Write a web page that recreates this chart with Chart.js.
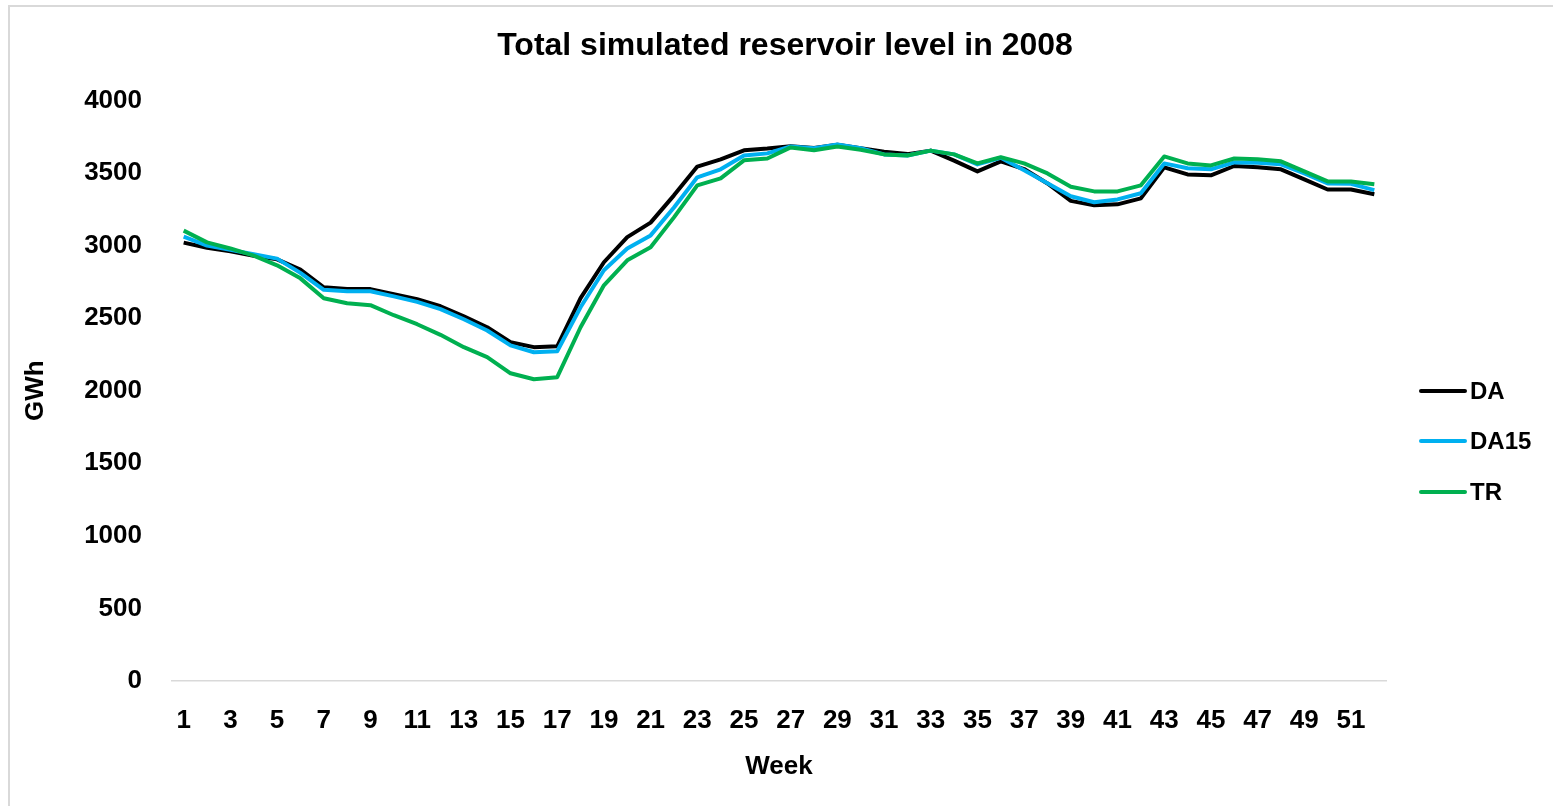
<!DOCTYPE html>
<html>
<head>
<meta charset="utf-8">
<script src="https://cdn.jsdelivr.net/npm/chart.js@4/dist/chart.umd.min.js"></script>
<style>
  html, body { margin: 0; padding: 0; background: #ffffff; }
  #wrap { position: relative; width: 1553px; height: 806px; overflow: hidden; background: #ffffff; }
  #frameTop { position: absolute; left: 8px; top: 5px; width: 1545px; height: 2px; background: #d9d9d9; }
  #frameLeft { position: absolute; left: 8px; top: 5px; width: 2px; height: 801px; background: #d9d9d9; }
  canvas { position: absolute; left: 0; top: 0; }
</style>
</head>
<body>
<div id="wrap">
  <div id="frameTop"></div>
  <div id="frameLeft"></div>
  <canvas id="c" width="1553" height="806"></canvas>
</div>
<script>
const titleText = 'Total simulated reservoir level in 2008';
const xTitle = 'Week';
const yTitle = 'GWh';
const weeks = [1,2,3,4,5,6,7,8,9,10,11,12,13,14,15,16,17,18,19,20,21,22,23,24,25,26,
               27,28,29,30,31,32,33,34,35,36,37,38,39,40,41,42,43,44,45,46,47,48,49,50,51,52];
const seriesNames = ['DA', 'DA15', 'TR'];
const DA = [3020,2985,2960,2930,2905,2835,2712,2700,2700,2665,2630,2582,2512,2437,2334,2300,2306,2638,2885,3058,3158,3346,3544,3594,3656,3668,
            3685,3672,3694,3670,3646,3630,3654,3585,3511,3580,3527,3428,3308,3277,3284,3325,3539,3490,3484,3548,3540,3525,3456,3386,3386,3353];
const DA15 = [3062,3000,2970,2940,2910,2812,2695,2685,2685,2650,2612,2562,2492,2415,2312,2265,2272,2575,2830,2980,3070,3262,3470,3525,3620,3635,
              3683,3670,3697,3670,3628,3620,3654,3628,3559,3605,3518,3430,3340,3298,3318,3360,3566,3532,3525,3573,3570,3560,3497,3428,3425,3382];
const TR = [3103,3022,2980,2930,2864,2774,2637,2602,2589,2520,2458,2385,2300,2231,2120,2079,2093,2437,2726,2898,2988,3194,3415,3463,3587,3600,
            3676,3656,3683,3660,3628,3620,3654,3628,3566,3608,3566,3497,3405,3373,3373,3415,3614,3566,3552,3600,3594,3580,3511,3442,3442,3422];
const yTicks = [0,500,1000,1500,2000,2500,3000,3500,4000];
const colors = ['#000000', '#00B0F0', '#00B050'];

const FONT = "'Liberation Sans', Arial, sans-serif";

const legendPlugin = {
  id: 'customLegend',
  afterDraw(chart) {
    const ctx = chart.ctx;
    const x0 = 1421, x1 = 1465, tx = 1470;
    const ys = [391, 441, 492];
    ctx.save();
    chart.data.datasets.forEach((ds, i) => {
      ctx.strokeStyle = ds.borderColor;
      ctx.lineWidth = 4;
      ctx.lineCap = 'round';
      ctx.beginPath();
      ctx.moveTo(x0, ys[i]);
      ctx.lineTo(x1, ys[i]);
      ctx.stroke();
      ctx.fillStyle = '#000000';
      ctx.font = 'bold 24px ' + FONT;
      ctx.textBaseline = 'middle';
      ctx.textAlign = 'left';
      ctx.fillText(ds.label, tx, ys[i] + 1);
    });
    ctx.restore();
  }
};

const seriesData = [DA, DA15, TR];
new Chart(document.getElementById('c'), {
  type: 'line',
  data: {
    labels: weeks,
    datasets: seriesNames.map((name, i) => ({
      label: name,
      data: seriesData[i],
      borderColor: colors[i],
      backgroundColor: colors[i],
      borderWidth: 4,
      pointRadius: 0,
      tension: 0,
      fill: false,
      order: 3 - i,
      borderJoinStyle: 'round',
      yAxisID: 'y'
    }))
  },
  options: {
    responsive: false,
    animation: false,
    devicePixelRatio: 1,
    layout: { padding: { left: 17, right: 0, top: 0, bottom: 0 } },
    plugins: {
      legend: { display: false },
      tooltip: { enabled: false },
      title: {
        display: true,
        text: titleText,
        color: '#000000',
        font: { family: FONT, size: 32, weight: 'bold' },
        padding: { top: 27, bottom: 35 }
      }
    },
    scales: {
      x: {
        type: 'category',
        offset: true,
        grid: { display: false, drawTicks: false },
        border: { display: true, color: '#d9d9d9', width: 1.5 },
        ticks: {
          autoSkip: false,
          maxRotation: 0,
          padding: 24,
          color: '#000000',
          font: { family: FONT, size: 26, weight: 'bold' },
          callback: function(value, index) { return index % 2 === 0 ? String(weeks[index]) : ''; }
        },
        title: {
          display: true,
          text: xTitle,
          color: '#000000',
          font: { family: FONT, size: 26, weight: 'bold' },
          padding: { top: 0, bottom: 24 }
        },
        afterFit: function(scale) { scale.height = 125; }
      },
      y: {
        position: 'left',
        min: 0,
        max: 4000,
        grid: { display: false, drawTicks: false },
        border: { display: false },
        afterBuildTicks: function(scale) { scale.ticks = yTicks.map(v => ({ value: v })); },
        ticks: {
          padding: 30,
          color: '#000000',
          font: { family: FONT, size: 26, weight: 'bold' },
          callback: function(value) { return String(value); }
        },
        title: {
          display: true,
          text: yTitle,
          color: '#000000',
          font: { family: FONT, size: 26, weight: 'bold' },
          padding: { top: 3, bottom: 0 }
        },
        afterFit: function(scale) { scale.width = 155; }
      },
      legendSpace: {
        type: 'linear',
        position: 'right',
        min: 0,
        max: 4000,
        grid: { display: false, drawTicks: false },
        border: { display: false },
        ticks: { display: false },
        afterFit: function(scale) { scale.width = 167; }
      }
    }
  },
  plugins: [legendPlugin]
});
</script>
</body>
</html>
